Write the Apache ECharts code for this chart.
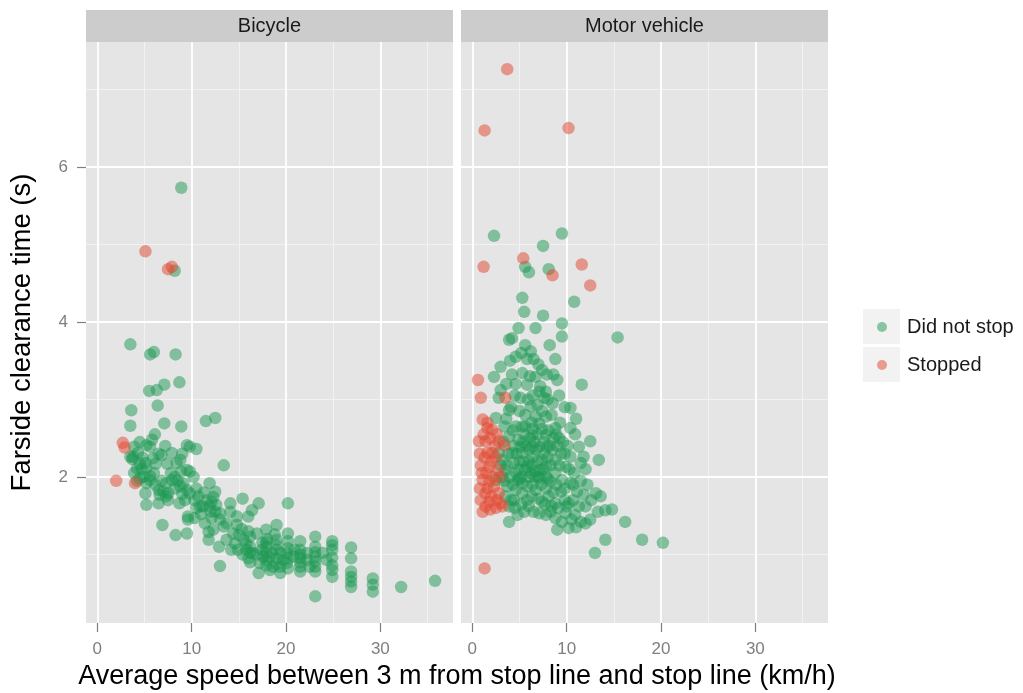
<!DOCTYPE html>
<html><head><meta charset="utf-8">
<script src="https://cdn.jsdelivr.net/npm/echarts@6/dist/echarts.min.js"></script>
<style>html,body{margin:0;padding:0;background:#fff}#c{width:1023px;height:693px}</style>
</head><body><div id="c"></div>
<script>
const panels = ['Bicycle', 'Motor vehicle'];
const groups = ['Did not stop', 'Stopped'];
const xTitle = 'Average speed between 3 m from stop line and stop line (km/h)';
const yTitle = 'Farside clearance time (s)';
const xTicks = [0, 10, 20, 30];
const xMinor = [5, 15, 25, 35];
const yTicks = [2, 4, 6];
const yMinor = [1, 3, 5, 7];
const xRange = [-1.2, 37.7];
const yRange = [0.116, 7.61];

const bicycleDidNotStop = [
[8.9,5.73],[8.2,4.66],[3.5,3.71],[5.6,3.58],[6.0,3.61],[8.3,3.58],[8.7,3.22],[5.5,3.11],[6.3,3.12],[7.1,3.19],
[3.6,2.86],[6.4,2.92],[3.5,2.66],[7.1,2.69],[8.9,2.65],[11.5,2.72],[12.5,2.76],[6.1,2.55],[5.8,2.48],[5.2,2.41],
[5.6,2.39],[3.9,2.39],[3.7,2.23],[4.5,2.17],[4.7,2.10],[6.2,2.17],[7.4,2.17],[7.9,2.31],[9.5,2.41],[10.5,2.36],
[8.8,2.22],[8.9,2.07],[9.8,2.07],[13.4,2.15],[4.9,2.00],[5.2,1.92],[5.6,2.01],[6.5,1.83],[7.0,1.81],[7.5,1.79],
[8.2,1.85],[8.8,1.88],[9.5,1.83],[9.1,1.92],[9.8,1.79],[6.5,1.66],[5.2,1.64],[5.1,1.79],[8.7,1.66],[7.3,1.75],
[11.9,1.92],[12.5,1.81],[10.7,1.75],[11.6,1.70],[11.9,1.62],[10.9,1.62],[12.5,1.55],[12.1,1.47],[13.0,1.53],[14.1,1.66],
[15.4,1.72],[17.1,1.66],[14.1,1.55],[14.8,1.49],[16.4,1.57],[16.0,1.49],[9.6,1.45],[10.3,1.47],[9.5,1.27],[6.9,1.38],
[8.3,1.25],[11.8,1.29],[11.8,1.19],[13.0,0.85],[13.7,1.40],[14.4,1.27],[14.6,1.14],[14.2,1.06],[15.5,1.19],[16.2,1.23],
[16.2,1.10],[16.2,1.02],[15.8,1.14],[16.9,1.27],[17.9,1.32],[19.0,1.38],[20.2,1.66],[20.2,1.27],[20.2,1.17],[17.9,1.10],
[17.9,1.02],[17.9,0.93],[19.0,1.19],[19.0,1.06],[19.0,0.95],[18.6,0.84],[17.1,0.76],[18.3,0.80],[19.4,0.84],[20.1,1.02],
[20.1,0.89],[20.2,0.82],[21.5,1.17],[21.5,1.06],[21.5,0.95],[21.5,0.84],[21.5,0.78],[23.1,1.23],[23.1,1.10],[23.1,0.97],
[23.1,0.91],[23.1,0.84],[23.1,0.46],[24.9,1.17],[24.9,1.06],[24.9,0.86],[24.9,0.80],[24.9,0.71],[26.9,1.09],[26.9,0.95],
[26.9,0.71],[26.9,0.65],[26.9,0.58],[29.2,0.69],[29.2,0.61],[29.2,0.52],[32.2,0.58],[35.8,0.66],[15.8,1.06],[16.5,1.02],
[17.4,1.06],[17.6,0.97],[18.5,1.02],[19.4,1.02],[19.7,0.93],[17.2,0.89],[19.4,0.76],[20.8,0.97],[20.9,1.06],[22.2,0.93],
[22.2,1.02],[22.5,0.84],[23.9,1.02],[24.3,0.93],[14.8,1.38],[13.4,1.36],[12.3,1.32],[11.4,1.40],[13.7,1.19],[14.9,1.06],
[12.6,1.64],[11.2,1.62],[10.3,1.70],[9.3,1.70],[7.5,1.70],[6.6,1.77],[6.1,1.90],[5.6,1.96],[4.5,1.98],[4.2,2.11],
[5.1,2.18],[3.8,2.26],[4.3,2.31],[5.9,2.24],[6.8,2.28],[8.4,2.18],[8.2,2.00],[9.5,2.09],[7.3,1.92],[7.9,1.96],
[10.2,2.00],[10.5,1.85],[12.1,1.68],[9.8,2.39],[5.2,2.11],[3.5,2.26],[9.6,1.49],[12.9,1.10],[16.0,1.30],[18.0,1.20],
[16.0,0.95],[16.2,0.90],[17.9,0.86],[19.0,0.88],[19.0,1.12],[17.9,1.16],[18.8,1.26],[20.2,1.08],[20.2,0.95],[21.5,1.00],
[21.5,0.90],[23.1,1.03],[23.1,0.78],[24.9,0.96],[24.9,1.12],[26.9,0.78],[15.0,1.25],[15.3,1.33],[13.0,1.45],[12.0,1.55],
[11.0,1.52],[10.5,1.60],[12.3,1.74],[11.3,1.80],[6.0,2.05],[6.8,1.95],[7.8,2.05],[8.5,1.95],[9.0,1.78],[4.8,2.25],
[4.2,1.95],[3.9,2.05],[4.5,2.45],[6.5,2.30],[7.2,2.40],[9.0,2.30],[17.5,1.15],[18.2,0.96],[16.9,1.00],[15.4,1.00]
];
const bicycleStopped = [
[5.1,4.91],[7.5,4.68],[7.9,4.71],[2.7,2.44],[2.9,2.38],[2.0,1.95],[4.0,1.92]
];

const motorDidNotStop = [
[2.3,5.11],[9.5,5.14],[7.5,4.98],[5.6,4.71],[6.0,4.64],[8.1,4.68],[5.3,4.31],[10.8,4.26],[5.5,4.13],[7.5,4.08],
[9.5,3.98],[4.9,3.92],[6.7,3.92],[9.5,3.81],[4.2,3.79],[3.9,3.77],[15.4,3.80],[5.6,3.70],[6.2,3.62],[4.6,3.55],
[5.8,3.52],[6.5,3.52],[8.8,3.52],[3.0,3.42],[4.2,3.32],[2.3,3.29],[7.4,3.38],[7.9,3.32],[8.6,3.32],[9.0,3.25],
[11.6,3.19],[5.8,3.19],[7.2,3.17],[7.1,3.10],[3.0,3.12],[2.8,3.02],[5.1,3.02],[7.6,3.02],[10.4,2.89],[3.9,2.86],
[2.5,2.76],[5.6,2.80],[6.7,2.78],[7.8,2.78],[3.4,2.65],[4.6,2.65],[8.8,2.63],[10.4,2.63],[3.9,2.52],[6.4,2.54],
[7.8,2.54],[9.2,2.50],[12.5,2.46],[5.1,2.39],[7.1,2.39],[8.5,2.35],[11.3,2.39],[11.8,2.26],[13.4,2.22],[11.5,2.18],
[10.4,2.26],[3.2,2.22],[4.4,2.18],[5.8,2.13],[6.7,2.07],[7.8,2.13],[8.8,2.22],[9.9,2.13],[10.8,2.05],[3.2,2.00],
[4.8,1.96],[6.0,2.00],[7.2,1.98],[8.3,1.94],[9.5,1.96],[4.1,1.70],[5.3,1.79],[6.7,1.83],[8.1,1.75],[9.4,1.81],
[11.1,1.81],[11.8,1.77],[13.1,1.79],[13.6,1.75],[3.9,1.62],[4.8,1.51],[3.9,1.42],[7.1,1.53],[7.8,1.51],[8.8,1.47],
[9.9,1.53],[10.9,1.51],[12.0,1.62],[12.5,1.45],[14.1,1.57],[14.8,1.58],[9.0,1.32],[10.2,1.34],[11.5,1.42],[16.2,1.42],
[14.1,1.19],[18.0,1.19],[20.2,1.15],[13.0,1.02],[5.3,2.31],[6.4,2.26],[7.4,2.22],[5.6,2.09],[7.1,2.09],[5.3,1.92],
[6.4,1.90],[7.8,1.85],[4.6,1.83],[4.2,2.31],[7.1,2.69],[5.3,2.65],[6.2,2.91],[8.5,2.95],[8.8,2.05],[6.0,1.62],
[8.8,1.66],[3.7,1.88],[3.5,2.09],[2.8,2.31],[2.5,1.96],[7.4,1.68],[10.2,1.66],[10.4,1.92],[6.4,2.39],[7.9,2.39],
[4.9,2.48],[6.9,2.93],[7.8,3.10],[6.7,3.29],[5.3,3.34],[4.0,2.00],[6.0,2.20],[6.6,2.45],[5.0,2.20],[8.0,2.25],
[9.0,2.40],[9.8,2.30],[5.5,2.55],[4.4,2.40],[7.0,2.00],[8.6,1.80],[5.8,1.70],[9.8,1.70],[12.2,1.90],[10.9,2.55],
[3.6,2.75],[4.1,2.90],[4.5,3.05],[5.0,2.85],[5.9,3.00],[6.3,2.70],[7.4,2.85],[8.1,2.60],[8.4,2.80],[9.3,2.70],
[9.8,2.90],[3.3,2.45],[3.8,2.30],[4.7,2.30],[5.7,2.40],[6.1,2.50],[6.9,2.55],[7.6,2.45],[8.2,2.40],[8.9,2.55],
[9.6,2.45],[10.1,2.40],[3.0,2.15],[3.7,2.15],[4.9,2.10],[5.4,2.20],[6.3,2.15],[6.9,2.20],[7.5,2.10],[8.3,2.15],
[9.2,2.15],[10.3,2.10],[3.4,1.95],[4.3,1.90],[5.0,1.98],[5.8,1.88],[6.6,2.00],[7.3,1.90],[8.0,1.98],[8.9,1.90],
[9.8,1.85],[10.7,1.90],[11.5,1.95],[3.5,1.75],[4.4,1.70],[5.2,1.65],[6.3,1.75],[7.0,1.72],[7.7,1.65],[8.4,1.62],
[9.1,1.60],[10.0,1.62],[10.7,1.70],[11.3,1.62],[12.6,1.70],[4.5,1.60],[5.5,1.55],[6.5,1.55],[8.3,1.55],[9.5,1.42],
[10.5,1.45],[11.0,1.35],[12.0,1.40],[13.3,1.55],[6.0,2.35],[6.8,2.35],[7.6,2.30],[5.2,2.00],[6.2,2.05],[7.8,2.00],
[4.6,2.05],[5.4,2.45],[8.6,2.50],[9.4,2.30],[6.4,2.62],[7.4,2.62],[5.6,2.65],[4.3,2.60],[8.0,3.00],[6.4,3.05],
[4.6,3.20],[6.1,3.30],[9.2,3.05],[3.6,3.20],[4.0,3.50],[7.0,3.45],[5.2,3.60],[8.2,3.70],[11.0,2.75],[12.0,2.10]
];
const motorStopped = [
[3.7,7.26],[1.3,6.47],[10.2,6.50],[5.4,4.82],[1.2,4.71],[8.5,4.60],[11.6,4.74],[12.5,4.47],[0.6,3.25],[0.9,3.02],
[3.5,3.02],[1.1,2.74],[1.6,2.63],[2.1,2.61],[0.7,2.46],[1.4,2.46],[2.8,2.46],[3.4,2.41],[0.9,2.15],[1.8,2.13],
[2.7,2.09],[1.1,1.96],[1.8,1.94],[1.4,1.79],[0.9,1.70],[1.8,1.68],[3.0,1.66],[1.4,1.62],[3.2,1.62],[1.3,0.82],
[2.1,2.31],[2.3,1.88],[1.6,2.31],[2.8,1.79],[1.2,2.55],[1.9,2.50],[2.4,2.40],[0.8,2.30],[1.3,2.25],[2.0,2.20],
[2.5,2.25],[1.0,2.05],[1.5,2.05],[2.2,2.00],[2.9,2.00],[0.8,1.85],[1.6,1.85],[2.0,1.75],[2.6,1.70],[1.1,1.55],
[1.9,1.58],[2.5,1.60],[1.6,2.70],[2.6,2.55]
];

const panelData = [
  {dns: bicycleDidNotStop, st: bicycleStopped},
  {dns: motorDidNotStop, st: motorStopped}
];

const FONT = '"Liberation Sans", Arial, Helvetica, sans-serif';
const GREEN = 'rgba(26,152,80,0.62)';
const RED = 'rgba(227,74,51,0.65)';
const PANEL_TOP = 42, PANEL_H = 581, PANEL_W = 367;
const PANEL_LEFT = [86, 461];
const STRIP_H = 32;

const chart = echarts.init(document.getElementById('c'), null, {renderer: 'canvas'});

const grids = PANEL_LEFT.map(l => ({left: l, top: PANEL_TOP, width: PANEL_W, height: PANEL_H,
  show: true, backgroundColor: '#e5e5e5', borderWidth: 0, containLabel: false}));

const xAxes = [0, 1].map(i => ({
  gridIndex: i, type: 'value', min: xRange[0], max: xRange[1],
  axisLine: {show: false, onZero: false},
  splitLine: {show: false},
  axisTick: {show: true, length: 9, customValues: xTicks, lineStyle: {color: '#7f7f7f', width: 1.2}},
  axisLabel: {show: true, customValues: xTicks, margin: 18, color: '#7f7f7f', fontSize: 17, fontFamily: FONT}
}));
const yAxes = [0, 1].map(i => ({
  gridIndex: i, type: 'value', min: yRange[0], max: yRange[1],
  axisLine: {show: false, onZero: false},
  splitLine: {show: false},
  axisTick: {show: i === 0, length: 9, customValues: yTicks, lineStyle: {color: '#7f7f7f', width: 1.2}},
  axisLabel: {show: i === 0, customValues: yTicks, margin: 18, color: '#7f7f7f', fontSize: 17, fontFamily: FONT}
}));

const series = [];
[0, 1].forEach(i => {
  const major = {color: '#ffffff', width: 1.8, type: 'solid'};
  const minor = {color: '#f2f2f2', width: 1, type: 'solid'};
  const lines = [];
  xMinor.forEach(v => lines.push({xAxis: v, lineStyle: minor}));
  yMinor.forEach(v => lines.push({yAxis: v, lineStyle: minor}));
  xTicks.forEach(v => lines.push({xAxis: v, lineStyle: major}));
  yTicks.forEach(v => lines.push({yAxis: v, lineStyle: major}));
  series.push({
    name: 'grid' + i, type: 'scatter', xAxisIndex: i, yAxisIndex: i, data: [], z: 1, silent: true,
    markLine: {silent: true, symbol: ['none', 'none'], label: {show: false}, animation: false, data: lines, z: 1}
  });
});
[0, 1].forEach(i => {
  series.push({name: groups[0], type: 'scatter', xAxisIndex: i, yAxisIndex: i, data: panelData[i].dns,
    symbolSize: 12.5, itemStyle: {color: GREEN}, z: 3});
});
[0, 1].forEach(i => {
  series.push({name: groups[1], type: 'scatter', xAxisIndex: i, yAxisIndex: i, data: panelData[i].st,
    symbolSize: 12.5, itemStyle: {color: RED}, z: 4});
});

const graphics = [];
PANEL_LEFT.forEach((l, i) => {
  graphics.push({type: 'rect', left: l, top: PANEL_TOP - STRIP_H, shape: {width: PANEL_W, height: STRIP_H},
    style: {fill: '#cccccc'}, silent: true});
  graphics.push({type: 'text', x: l + PANEL_W / 2, y: PANEL_TOP - STRIP_H / 2,
    style: {text: panels[i], fill: '#1a1a1a', font: '20px ' + FONT, textAlign: 'center', textVerticalAlign: 'middle'}, silent: true});
});
graphics.push({type: 'text', x: (PANEL_LEFT[0] + PANEL_LEFT[1] + PANEL_W) / 2, y: 677,
  style: {text: xTitle, fill: '#000000', font: '27px ' + FONT, textAlign: 'center', textVerticalAlign: 'middle'}, silent: true});
graphics.push({type: 'text', x: 22, y: PANEL_TOP + PANEL_H / 2, rotation: Math.PI / 2,
  style: {text: yTitle, fill: '#000000', font: '27.5px ' + FONT, textAlign: 'center', textVerticalAlign: 'middle'}, silent: true});
graphics.push({type: 'rect', left: 863, top: 309, shape: {width: 37, height: 35}, style: {fill: '#f2f2f2'}, silent: true, z: -1});
graphics.push({type: 'rect', left: 863, top: 347, shape: {width: 37, height: 35}, style: {fill: '#f2f2f2'}, silent: true, z: -1});

chart.setOption({
  animation: false,
  backgroundColor: '#ffffff',
  grid: grids,
  xAxis: xAxes,
  yAxis: yAxes,
  legend: {
    data: groups, orient: 'vertical', left: 877, top: 317, padding: 0,
    itemWidth: 10, itemHeight: 10, itemGap: 18, icon: 'circle',
    textStyle: {fontSize: 20, color: '#1a1a1a', fontFamily: FONT, padding: [0, 0, 0, 15]}
  },
  graphic: graphics,
  series: series
});
</script>
</body></html>
